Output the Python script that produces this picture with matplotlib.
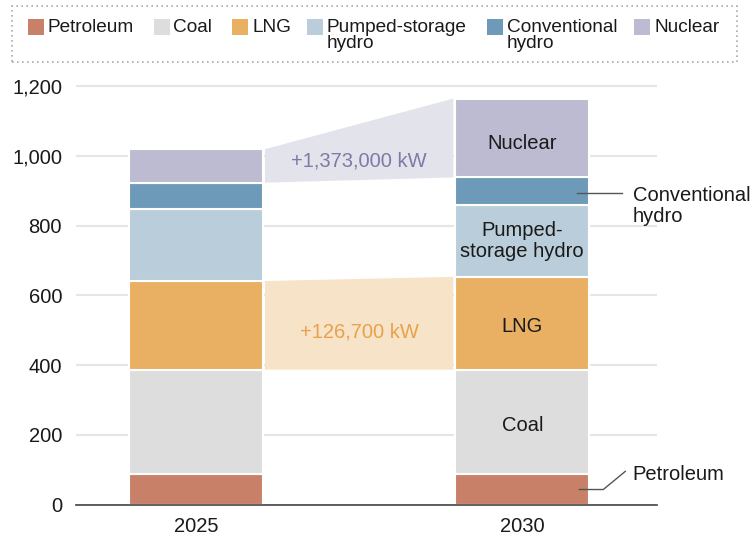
import matplotlib
matplotlib.use("Agg")
import matplotlib.pyplot as plt
from matplotlib.patches import Rectangle
from matplotlib.transforms import offset_copy
import numpy as np

plt.rcParams['font.family'] = ['Liberation Sans', 'DejaVu Sans']

# ---- data (10,000 kW) ----
years = ["2025", "2030"]
sources = ["Petroleum", "Coal", "LNG", "Pumped-storage\nhydro", "Conventional\nhydro", "Nuclear"]
petroleum = [87, 87]
coal = [300, 300]
lng = [254, 266]
pumped = [207, 207]
conv_hydro = [75, 78]
nuclear = [96, 226]
colors = ["#c88168", "#dcdddc", "#e9b064", "#bacdda", "#6e9aba", "#bdbbd1"]
lng_change_label = "+126,700 kW"
nuclear_change_label = "+1,373,000 kW"
yticks = [0, 200, 400, 600, 800, 1000, 1200]
ytick_labels = ["0", "200", "400", "600", "800", "1,000", "1,200"]

series = [petroleum, coal, lng, pumped, conv_hydro, nuclear]

FS = 14.5
W, H = 752, 538
fig = plt.figure(figsize=(W / 100, H / 100), dpi=100)
ax_l, ax_r, ax_b, ax_t = 76, 657, 504.7, 80
ax = fig.add_axes([ax_l / W, 1 - ax_b / H, (ax_r - ax_l) / W, (ax_b - ax_t) / H])

x = np.arange(len(years))
bw = 0.411
bottoms = np.zeros(len(years))
tops_list = []
for vals, c in zip(series, colors):
    v = np.array(vals, dtype=float)
    ax.bar(x, v, bottom=bottoms, width=bw, color=c, edgecolor="white", linewidth=1.5, zorder=3)
    tops_list.append((bottoms.copy(), bottoms + v))
    bottoms = bottoms + v

down = offset_copy(ax.transData, fig=fig, x=0, y=-2.5, units="points")

# connecting bands
gap = 0.006
def band(idx, color):
    b, t = tops_list[idx]
    x0 = x[0] + bw / 2 + gap
    x1 = x[1] - bw / 2 - gap
    ax.fill([x0, x1, x1, x0], [b[0], b[1], t[1], t[0]], color=color, lw=0, zorder=2)
    return (x0 + x1) / 2, (b[0] + b[1] + t[0] + t[1]) / 4

cx, cy = band(5, "#e3e3ec")
ax.text(cx, cy - 15, nuclear_change_label, ha="center", va="center", fontsize=FS, color="#7b7ca6",
        zorder=4, transform=down)
cx, cy = band(2, "#f6e3c8")
ax.text(cx, cy - 13, lng_change_label, ha="center", va="center", fontsize=FS, color="#e8a24a",
        zorder=4, transform=down)

# in-bar labels (2030)
def mid(idx):
    b, t = tops_list[idx]
    return (b[1] + t[1]) / 2
ax.text(x[1], mid(5) - 5, "Nuclear", ha="center", va="center", fontsize=FS, color="#1a1a1a", zorder=5, transform=down)
ax.text(x[1], mid(3), "Pumped-\nstorage hydro", ha="center", va="center", fontsize=FS, color="#1a1a1a",
        zorder=5, linespacing=1.1)
ax.text(x[1], mid(2), "LNG", ha="center", va="center", fontsize=FS, color="#1a1a1a", zorder=5, transform=down)
ax.text(x[1], mid(1), "Coal", ha="center", va="center", fontsize=FS, color="#1a1a1a", zorder=5, transform=down)

# outside labels with leaders
px = 326.4  # pixels per x unit
def xd(dpx):
    return x[1] + dpx / px
hy = mid(4)
ax.plot([xd(55), xd(100)], [hy - 6, hy - 6], color="#555555", lw=1, zorder=6, clip_on=False)
tr = offset_copy(ax.transData, fig=fig, x=0, y=5, units="points")
ax.text(xd(110.5), hy - 6, "Conventional\nhydro", ha="left", va="top", fontsize=FS, color="#1a1a1a",
        transform=tr, linespacing=1.1, clip_on=False)
py = mid(0)
ax.plot([xd(57), xd(81), xd(103)], [py, py, py + 52], color="#555555", lw=1, zorder=6, clip_on=False)
ax.text(xd(110.5), py + 52, "Petroleum", ha="left", va="center", fontsize=FS, color="#1a1a1a",
        clip_on=False, transform=down)

# axes styling
ax.set_xlim(-(195.9 - ax_l) / px, (ax_r - 195.9) / px)
ax.set_ylim(0, (ax_b - ax_t) / 0.3489)
ax.set_yticks(yticks)
ax.set_yticklabels(ytick_labels)
ax.set_xticks(x)
ax.set_xticklabels(years)
ax.tick_params(axis="both", length=0, labelsize=FS, colors="#1a1a1a")
ax.tick_params(axis="y", pad=10)
ax.tick_params(axis="x", pad=9)
ax.yaxis.grid(True, color="#e6e6e6", lw=1.5, zorder=0)
ax.set_axisbelow(True)
for s in ["left", "right", "top"]:
    ax.spines[s].set_visible(False)
ax.spines["bottom"].set_color("#444444")
ax.spines["bottom"].set_linewidth(1.2)
ax.spines["bottom"].set_zorder(7)

# legend (manual, figure pixel coords)
def fx(p):
    return p / W
def fy(p):
    return 1 - p / H
box = Rectangle((fx(12), fy(62)), fx(737) - fx(12), fy(6) - fy(62), transform=fig.transFigure,
                fill=False, edgecolor="#aaaaaa", lw=1.2, linestyle=(0, (1, 2)))
fig.patches.append(box)
sq_x = [28, 153.5, 232, 307, 487, 634]
for sx, name, c in zip(sq_x, sources, colors):
    fig.patches.append(Rectangle((fx(sx), fy(35)), 16 / W, 16 / H, transform=fig.transFigure,
                                 facecolor=c, edgecolor="none"))
    fig.text(fx(sx + 20), fy(19.5), name, ha="left", va="top", fontsize=13.7, color="#1a1a1a",
             linespacing=0.85)

fig.savefig("out.png", dpi=100)
